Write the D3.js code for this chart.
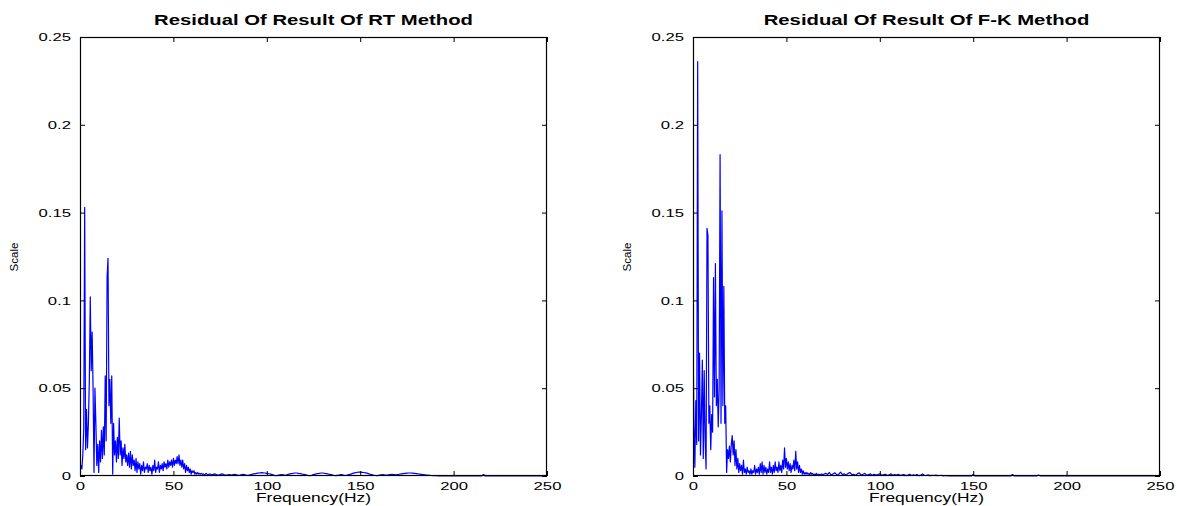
<!DOCTYPE html>
<html>
<head>
<meta charset="utf-8">
<script src="https://cdn.jsdelivr.net/npm/d3@7"></script>
<style>
  html, body { margin: 0; padding: 0; background: #fff; }
  svg { display: block; }
  text { font-family: "Liberation Sans", Arial, Helvetica, sans-serif; fill: #000; }
</style>
</head>
<body>
<svg id="chart" width="1177" height="506"></svg>
<script>
// ---------------- DATA ----------------
const chartTitles = ["Residual Of Result Of RT Method", "Residual Of Result Of F-K Method"];
const xAxisLabel = "Frequency(Hz)";
const yAxisLabel = "Scale";
const xTickValues = [0, 50, 100, 150, 200, 250];
const xTickLabels = ["0", "50", "100", "150", "200", "250"];
const yTickValues = [0, 0.05, 0.1, 0.15, 0.2, 0.25];
const yTickLabels = ["0", "0.05", "0.1", "0.15", "0.2", "0.25"];

// Low band: 0 .. 70 Hz, 0.5 Hz step
const lowStepHz = 0.5;
// High band: 71 .. 250 Hz, 1 Hz step
const highStartHz = 71;
const highStepHz = 1;

const rtLow = [
  0.002,0.006,0.004,0.012,0.027,0.153,0.015,0.038,0.016,0.030,
  0.055,0.102,0.060,0.082,0.050,0.002,0.050,0.030,0.006,0.018,
  0.002,0.020,0.008,0.026,0.010,0.028,0.012,0.057,0.020,0.113,
  0.124,0.040,0.055,0.030,0.057,0.001,0.030,0.012,0.020,0.008,
  0.022,0.010,0.033,0.012,0.020,0.006,0.016,0.010,0.018,0.008,
  0.012,0.006,0.013,0.005,0.014,0.004,0.012,0.006,0.009,0.003,
  0.010,0.002,0.008,0.004,0.007,0.001,0.006,0.003,0.008,0.002,
  0.005,0.004,0.007,0.002,0.006,0.003,0.005,0.001,0.006,0.003,
  0.009,0.002,0.005,0.004,0.008,0.002,0.006,0.004,0.007,0.003,
  0.008,0.005,0.007,0.004,0.009,0.005,0.008,0.006,0.009,0.005,
  0.010,0.006,0.009,0.007,0.011,0.007,0.012,0.006,0.009,0.005,
  0.009,0.004,0.007,0.002,0.006,0.003,0.005,0.002,0.004,0.001,
  0.003,0.002,0.003,0.001,0.002,0.001,0.002,0.001,0.0015,0.001,
  0.0015,0.001,0.0012,0.0008,0.001,0.0015,0.001,0.0006,0.001,0.0012,
  0.001
];
const rtHigh = [
  0.0008,0.0012,0.0008,0.0004,0.0008,0.0012,0.0008,0.0004,0.0006,0.0008,
  0.0005,0.0008,0.0010,0.0006,0.0003,0.0006,0.0010,0.0008,0.0005,0.0004,
  0.0006,0.0009,0.0012,0.0014,0.0016,0.0017,0.0019,0.0018,0.0017,0.0015,
  0.0013,0.0011,0.0008,0.0004,0.0002,0.0004,0.0006,0.0008,0.0006,0.0004,
  0.0008,0.0011,0.0014,0.0015,0.0017,0.0017,0.0015,0.0014,0.0011,0.0009,
  0.0006,0.0003,0.0002,0.0004,0.0008,0.0011,0.0014,0.0015,0.0017,0.0017,
  0.0015,0.0014,0.0011,0.0009,0.0006,0.0003,0.0002,0.0004,0.0006,0.0008,
  0.0005,0.0003,0.0005,0.0008,0.0011,0.0015,0.0018,0.0020,0.0022,0.0022,
  0.0021,0.0020,0.0018,0.0015,0.0011,0.0008,0.0005,0.0003,0.0002,0.0004,
  0.0006,0.0008,0.0006,0.0005,0.0006,0.0008,0.0009,0.0008,0.0006,0.0008,
  0.0010,0.0012,0.0014,0.0015,0.0016,0.0017,0.0017,0.0016,0.0015,0.0014,
  0.0012,0.0011,0.0009,0.0008,0.0006,0.0005,0.0004,0.0003,0.0002,0.0002,
  0.0002,0.0001,0.0001,0.0001,0.0001,0,0,0,0,0,
  0,0,0,0,0,0,0,0,0,0,
  0,0,0,0,0,0.0008,0,0,0,0,
  0,0,0,0,0,0,0,0,0,0,
  0,0,0,0,0,0,0,0,0,0,
  0,0,0,0,0,0,0,0,0,0
];
const fkLow = [
  0.083,0.030,0.005,0.043,0.018,0.236,0.020,0.070,0.012,0.035,
  0.066,0.010,0.060,0.020,0.004,0.141,0.137,0.030,0.040,0.015,
  0.035,0.025,0.113,0.045,0.121,0.040,0.055,0.028,0.050,0.183,
  0.030,0.151,0.040,0.108,0.030,0.040,0.002,0.015,0.010,0.017,
  0.008,0.018,0.023,0.012,0.020,0.006,0.015,0.004,0.010,0.002,
  0.007,0.003,0.006,0.001,0.009,0.002,0.004,0.001,0.005,0.002,
  0.003,0.001,0.004,0.001,0.003,0.002,0.006,0.001,0.004,0.002,
  0.005,0.001,0.007,0.002,0.008,0.001,0.006,0.002,0.005,0.001,
  0.004,0.002,0.008,0.002,0.005,0.001,0.006,0.002,0.008,0.003,
  0.005,0.002,0.008,0.003,0.006,0.002,0.009,0.004,0.016,0.005,
  0.010,0.004,0.008,0.003,0.007,0.002,0.006,0.004,0.009,0.003,
  0.014,0.004,0.008,0.002,0.006,0.002,0.004,0.001,0.003,0.001,
  0.002,0.001,0.002,0.001,0.0015,0.0005,0.002,0.001,0.0015,0.0005,
  0.001,0.0005,0.0015,0.0005,0.001,0.0005,0.001,0.0003,0.0012,0.0005,
  0.001
];
const fkHigh = [
  0.0015,0.0008,0.0020,0.0005,0.0012,0.0018,0.0006,0.0010,0.0022,0.0008,
  0.0012,0.0005,0.0015,0.0020,0.0008,0.0010,0.0004,0.0012,0.0018,0.0006,
  0.0010,0.0015,0.0005,0.0008,0.0012,0.0004,0.0010,0.0006,0.0008,0.0012,
  0.0004,0.0008,0.0010,0.0003,0.0006,0.0012,0.0004,0.0008,0.0005,0.0010,
  0.0003,0.0006,0.0008,0.0002,0.0005,0.0010,0.0003,0.0006,0.0004,0.0008,
  0.0002,0.0005,0.0012,0.0003,0.0004,0.0006,0.0002,0.0004,0.0003,0.0005,
  0.0002,0.0003,0.0004,0.0001,0.0003,0.0002,0.0001,0.0002,0.0001,0.0001,
  0,0,0.0001,0,0,0,0,0,0,0.0008,
  0,0,0,0,0,0,0,0,0,0,
  0,0,0,0,0,0,0,0,0,0,
  0.0008,0,0,0,0,0,0,0,0,0,
  0,0,0,0,0.0006,0,0,0,0,0,
  0,0,0,0,0,0,0,0,0,0,
  0,0,0,0,0,0,0,0,0,0,
  0,0,0,0,0,0,0,0,0,0,
  0,0,0,0,0,0,0,0,0,0,
  0,0,0,0,0,0,0,0,0,0,
  0,0,0,0,0,0,0,0,0,0
];

// ---------------- BUILD ----------------
function toPoints(low, high) {
  const pts = low.map((v, i) => [i * lowStepHz, v]);
  high.forEach((v, i) => pts.push([highStartHz + i * highStepHz, v]));
  return pts;
}
const panels = [
  { title: chartTitles[0], points: toPoints(rtLow, rtHigh), left: 80 },
  { title: chartTitles[1], points: toPoints(fkLow, fkHigh), left: 693 }
];

const svg = d3.select("#chart");
svg.append("rect").attr("width", 1177).attr("height", 506).attr("fill", "#fff");

const plotW = 467, plotTop = 37, plotBottom = 476;
const SX = 1.45; // horizontal stretch of text, like the reference rendering

panels.forEach((p, k) => {
  const x = d3.scaleLinear().domain([0, 250]).range([p.left, p.left + plotW]);
  const y = d3.scaleLinear().domain([0, 0.25]).range([plotBottom, plotTop]);
  const g = svg.append("g");

  const clipId = "clip" + k;
  svg.append("clipPath").attr("id", clipId).append("rect")
    .attr("x", p.left).attr("y", plotTop - 1).attr("width", plotW).attr("height", plotBottom - plotTop + 2);

  // line
  g.append("path")
    .datum(p.points)
    .attr("clip-path", `url(#${clipId})`)
    .attr("fill", "none")
    .attr("stroke", "#0000ff")
    .attr("stroke-width", 1.2)
    .attr("stroke-linejoin", "round")
    .attr("d", d3.line().x(d => x(d[0])).y(d => y(d[1])));

  // axes
  const fmtX = (d) => xTickLabels[xTickValues.indexOf(d)];
  const fmtY = (d) => yTickLabels[yTickValues.indexOf(d)];

  const gx = g.append("g").attr("transform", `translate(0,${plotBottom})`)
    .call(d3.axisBottom(x).tickValues(xTickValues).tickFormat(fmtX).tickSizeInner(-5).tickSizeOuter(0).tickPadding(6));
  const gy = g.append("g").attr("transform", `translate(${p.left},0)`)
    .call(d3.axisLeft(y).tickValues(yTickValues).tickFormat(fmtY).tickSizeInner(-5).tickSizeOuter(0).tickPadding(9));
  const gt = g.append("g").attr("transform", `translate(0,${plotTop})`)
    .call(d3.axisTop(x).tickValues(xTickValues).tickFormat("").tickSizeInner(-5).tickSizeOuter(0));
  const gr = g.append("g").attr("transform", `translate(${p.left + plotW},0)`)
    .call(d3.axisRight(y).tickValues(yTickValues).tickFormat("").tickSizeInner(-5).tickSizeOuter(0));

  [gx, gy, gt, gr].forEach(a => {
    a.select(".domain").remove();
    a.selectAll(".tick line").attr("stroke", "#000").attr("stroke-width", 1);
    a.selectAll("text").attr("font-size", 11.5).attr("fill", "#000")
      .attr("font-family", '"Liberation Sans", Arial, sans-serif');
  });
  gx.selectAll("text").attr("transform", `scale(${SX},1)`);
  gy.selectAll("text").each(function () {
    const t = d3.select(this);
    const xx = +t.attr("x");
    t.attr("x", xx / SX).attr("transform", `scale(${SX},1)`);
  });

  // box
  g.append("rect")
    .attr("x", p.left + 0.5).attr("y", plotTop + 0.5)
    .attr("width", plotW - 1).attr("height", plotBottom - plotTop - 1)
    .attr("fill", "none").attr("stroke", "#000").attr("stroke-width", 1.2);

  const cx = p.left + plotW / 2;
  // title
  g.append("text")
    .attr("transform", `translate(${cx},25) scale(${SX},1)`)
    .attr("text-anchor", "middle")
    .attr("font-size", 14).attr("font-weight", "bold")
    .text(p.title);

  // x label
  g.append("text")
    .attr("transform", `translate(${cx},502) scale(${SX},1)`)
    .attr("text-anchor", "middle")
    .attr("font-size", 12)
    .text(xAxisLabel);

  // y label
  g.append("text")
    .attr("transform", `translate(${p.left - 62},257) rotate(-90)`)
    .attr("text-anchor", "middle")
    .attr("font-size", 11)
    .attr("textLength", 29).attr("lengthAdjust", "spacingAndGlyphs")
    .text(yAxisLabel);
});
</script>
</body>
</html>
